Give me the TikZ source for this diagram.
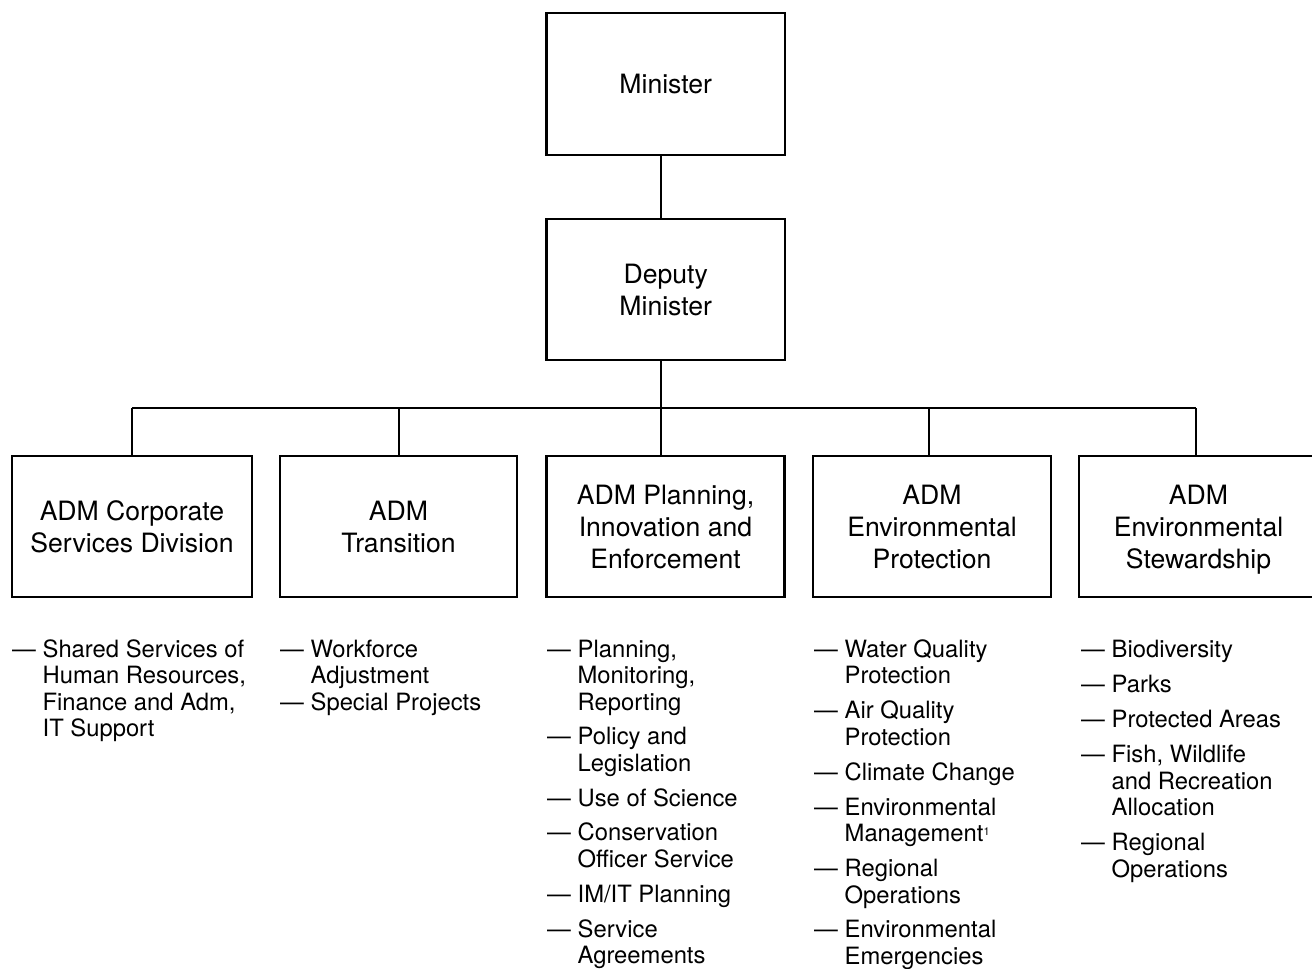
\documentclass[tikz,border=0pt]{standalone}
\usepackage{fontspec}
\setmainfont{TeX Gyre Heros}
\newcommand\dsh{\makebox[1.28em][l]{—}}
\newcommand\hng{\hspace*{1.28em}}
\newcommand\footmark{\raisebox{6.5bp}{\fontsize{11bp}{11bp}\selectfont 1}}
\begin{document}
\begin{tikzpicture}[x=1bp,y=-1bp,
  box/.style={draw=black, line width=2.2bp, align=center, inner sep=0pt,
    font=\fontsize{26.6bp}{32bp}\selectfont},
  conn/.style={draw=black, line width=1.2bp},
  lst/.style={anchor=base west, inner sep=0pt,
    font=\fontsize{23.8bp}{26.5bp}\selectfont}]
\useasboundingbox (0,0) rectangle (1312,968);

% top boxes
\node[box, minimum width=238.5bp, minimum height=142bp] (min) at (665.75,84) {Minister};
\node[box, minimum width=238.5bp, minimum height=141bp] (dep) at (665.75,289.5) {Deputy\\Minister};

% ADM boxes
\node[box, minimum width=240bp, minimum height=141bp] (b1) at (132,526.5) {ADM Corporate\\Services Division};
\node[box, minimum width=237bp, minimum height=141bp] (b2) at (398.5,526.5) {ADM\\Transition};
\node[box, minimum width=238bp, minimum height=141bp] (b3) at (665.5,526.5) {ADM Planning,\\Innovation and\\Enforcement};
\node[box, minimum width=238bp, minimum height=141bp] (b4) at (932,526.5) {ADM\\Environmental\\Protection};
\node[box, minimum width=239bp, minimum height=141bp] (b5) at (1198.5,526.5) {ADM\\Environmental\\\smash{Stewardship}};

% bus junctions
\coordinate (j1) at (132,408);
\coordinate (j2) at (399,408);
\coordinate (j3) at (661,408);
\coordinate (j4) at (929,408);
\coordinate (j5) at (1196,408);

\draw[conn] (min.south -| j3) -- (dep.north -| j3);
\draw[conn] (dep.south -| j3) -- (j3);
\draw[conn] (j1) -- (j5);
\draw[conn] (j1) -- (j1 |- b1.north);
\draw[conn] (j2) -- (j2 |- b2.north);
\draw[conn] (j3) -- (j3 |- b3.north);
\draw[conn] (j4) -- (j4 |- b4.north);
\draw[conn] (j5) -- (j5 |- b5.north);

% lists
\node[lst] (l1) at (12,657) {\parbox[t]{300bp}{\dsh Shared Services of\\
\hng Human Resources,\\
\hng Finance and Adm,\\
\hng IT Support}};

\node[lst] (l2) at (280,657) {\parbox[t]{300bp}{\dsh Workforce\\
\hng Adjustment\\
\dsh Special Projects}};

\node[lst] (l3) at (547,657) {\parbox[t]{300bp}{\dsh Planning,\\
\hng Monitoring,\\
\hng Reporting\\[8.3bp]
\dsh Policy and\\
\hng Legislation\\[8.3bp]
\dsh Use of Science\\[8.3bp]
\dsh Conservation\\
\hng Officer Service\\[8.3bp]
\dsh IM/IT Planning\\[8.3bp]
\dsh Service\\
\hng Agreements}};

\node[lst] (l4) at (814,657) {\parbox[t]{300bp}{\dsh Water Quality\\
\hng Protection\\[8.5bp]
\dsh Air Quality\\
\hng Protection\\[8.5bp]
\dsh Climate Change\\[8.5bp]
\dsh Environmental\\
\hng Management\footmark\\[8.5bp]
\dsh Regional\\
\hng Operations\\[8.3bp]
\dsh Environmental\\
\hng Emergencies}};

\node[lst] (l5) at (1081,657) {\parbox[t]{300bp}{\dsh Biodiversity\\[8.8bp]
\dsh Parks\\[8.8bp]
\dsh Protected Areas\\[8.5bp]
\dsh Fish, Wildlife\\
\hng and Recreation\\
\hng Allocation\\[8.5bp]
\dsh Regional\\
\hng Operations}};
\end{tikzpicture}
\end{document}
